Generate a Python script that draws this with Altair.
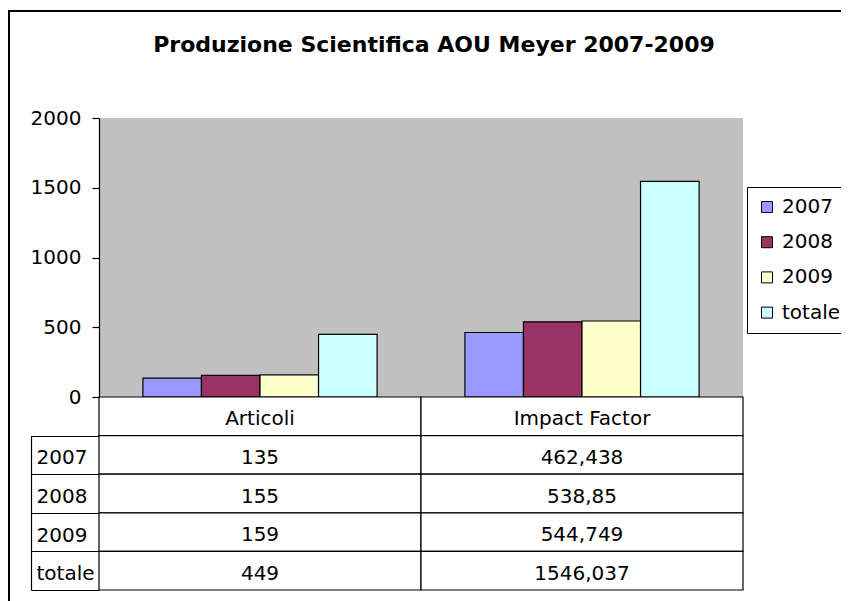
import altair as alt
import pandas as pd

# ---- data ----
title_text = "Produzione Scientifica AOU Meyer 2007-2009"
categories = ["Articoli", "Impact Factor"]
series = ["2007", "2008", "2009", "totale"]
articoli = [135, 155, 159, 449]
impact_factor = [462.438, 538.85, 544.749, 1546.037]
y_ticks = [0, 500, 1000, 1500, 2000]
colors = ["#9999FF", "#993366", "#FFFFCC", "#CCFFFF"]
header_key = "header"

# ---- style / layout ----
FONT = "DejaVu Sans"
FS = 20
W, H = 860, 600            # frame (view) size; right/bottom edges fall outside the canvas
CANVAS_W, CANVAS_H = 833, 593
PAD_L, PAD_T = 1, 3
PLOT_X = [90, 734]         # plot area / table columns, in view pixels
PLOT_Y = [386, 107]        # y=0 .. y=2000
TABLE_Y = [386, 579]       # header + 4 data rows
row_step = (TABLE_Y[1] - TABLE_Y[0]) / (len(series) + 1)
LABEL_Y = [TABLE_Y[0] + row_step, TABLE_Y[1]]
LABEL_LEFT = 22

values_by_cat = {"Articoli": articoli, "Impact Factor": impact_factor}


def fmt(v):
    return str(v).replace(".", ",")


bars_df = pd.DataFrame(
    [{"categoria": c, "serie": s, "valore": v}
     for c in categories for s, v in zip(series, values_by_cat[c])]
)
cat_df = pd.DataFrame({"categoria": categories})
table_df = pd.DataFrame(
    [{"categoria": c, "riga": header_key, "testo": c} for c in categories]
    + [{"categoria": c, "riga": s, "testo": fmt(v)}
       for c in categories for s, v in zip(series, values_by_cat[c])]
)
labels_df = pd.DataFrame({"riga": series})

x_scale = alt.Scale(domain=categories, range=PLOT_X, paddingInner=0, paddingOuter=0)
x_enc = alt.X("categoria:N", scale=x_scale, axis=None, sort=categories)
y_bar_scale = alt.Scale(domain=[y_ticks[0], y_ticks[-1]], range=PLOT_Y, nice=False)

# ---- plot area + bars ----
bg = alt.Chart(cat_df).mark_rect(fill="#C0C0C0").encode(
    x=x_enc,
    y=alt.datum(y_ticks[0]),
    y2=alt.datum(y_ticks[-1]),
)

bars = alt.Chart(bars_df).mark_bar(stroke="black", strokeWidth=1.2).encode(
    x=x_enc,
    xOffset=alt.XOffset("serie:N", sort=series,
                        scale=alt.Scale(domain=series, paddingInner=0, paddingOuter=0.75)),
    y=alt.Y("valore:Q", scale=y_bar_scale,
            axis=alt.Axis(values=y_ticks, format="d", orient="left", offset=-PLOT_X[0],
                          title=None, grid=False, domain=True, domainColor="black",
                          domainWidth=1.2, ticks=True, tickColor="black", tickSize=7,
                          tickWidth=1.2, labelFont=FONT, labelFontSize=FS, labelColor="black",
                          labelPadding=11, labelFlush=False, labelOverlap=False, zindex=1)),
    color=alt.Color("serie:N", sort=series, scale=alt.Scale(domain=series, range=colors),
                    legend=alt.Legend(title=None, orient="none", legendX=738, legendY=176,
                                      direction="vertical", symbolType="square", symbolSize=121,
                                      symbolStrokeColor="black", symbolStrokeWidth=1,
                                      symbolOpacity=1,
                                      labelFont=FONT, labelFontSize=FS, labelColor="black",
                                      labelOffset=5, padding=10, rowPadding=15.2,
                                      strokeColor="black", fillColor="white")),
)

plot_group = alt.layer(bg, bars)

# ---- data table ----
row_domain = [header_key] + series
y_table = alt.Scale(domain=row_domain, range=TABLE_Y, paddingInner=0, paddingOuter=0)

cells = alt.Chart(table_df).mark_rect(fill="white", stroke="black", strokeWidth=1.2).encode(
    x=x_enc,
    y=alt.Y("riga:N", scale=y_table, sort=row_domain, axis=None),
)
texts = alt.Chart(table_df).mark_text(font=FONT, fontSize=FS, color="black",
                                       baseline="middle", align="center", dy=3).encode(
    x=x_enc,
    y=alt.Y("riga:N", scale=y_table, sort=row_domain, axis=None),
    text="testo:N",
)
table_group = alt.layer(cells, texts)

# ---- row-label column of the table (drawn as an axis) ----
labels_group = alt.Chart(labels_df).mark_rect(opacity=0).encode(
    y=alt.Y("riga:N", sort=series,
            scale=alt.Scale(domain=series, range=LABEL_Y, paddingInner=0, paddingOuter=0),
            axis=alt.Axis(orient="right", offset=-(W - LABEL_LEFT), title=None,
                          domain=True, domainColor="black", domainWidth=1.2,
                          ticks=True, tickBand="extent", tickSize=PLOT_X[0] - LABEL_LEFT,
                          tickColor="black", tickWidth=1.2,
                          labelAlign="left", labelBaseline="middle",
                          labelPadding=-(PLOT_X[0] - LABEL_LEFT) + 5, labelOffset=3,
                          labelFont=FONT, labelFontSize=FS, labelColor="black", grid=False)),
)

chart = (
    alt.layer(plot_group, table_group, labels_group)
    .resolve_scale(y="independent")
    .properties(
        width=W,
        height=H,
        title=alt.TitleParams(title_text, font=FONT, fontSize=22, fontWeight="bold",
                              color="black", anchor="middle", frame="group",
                              baseline="alphabetic", offset=-41, dx=-5, dy=31.5),
        autosize=alt.AutoSizeParams(type="none"),
        padding={"left": PAD_L, "top": PAD_T,
                 "right": CANVAS_W - W - PAD_L, "bottom": CANVAS_H - H - PAD_T},
        background="white",
    )
    .configure_view(stroke="black", strokeWidth=2, fill="white")
)

chart.save("out.html", embed_options={"renderer": "svg", "actions": False})
